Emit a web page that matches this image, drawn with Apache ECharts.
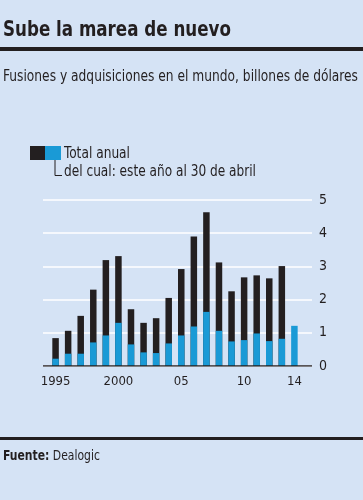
<!DOCTYPE html>
<html><head><meta charset="utf-8">
<script src="https://cdn.jsdelivr.net/npm/echarts@6/dist/echarts.min.js"></script>
<style>html,body{margin:0;padding:0;background:#d5e3f5;}#c{width:363px;height:500px;}</style>
</head><body><div id="c"></div>
<script>
const years = [1995,1996,1997,1998,1999,2000,2001,2002,2003,2004,2005,2006,2007,2008,2009,2010,2011,2012,2013,2014];
const totalAnual = [0.84,1.06,1.51,2.30,3.19,3.31,1.71,1.30,1.44,2.05,2.92,3.90,4.63,3.12,2.25,2.67,2.73,2.64,3.01,null];
const hastaAbril = [0.22,0.37,0.37,0.71,0.92,1.30,0.65,0.41,0.39,0.68,0.92,1.19,1.63,1.06,0.74,0.78,0.98,0.75,0.82,1.21];
const xTickLabels = {1995:'1995',2000:'2000',2005:'05',2010:'10',2014:'14'};
const yTicks = [0,1,2,3,4,5];

const FAM = '"DejaVu Sans Condensed",sans-serif';
const INK = '#231f20';
const mctx = document.createElement('canvas').getContext('2d');
function fit(text, font, target){ mctx.font = font; return target / mctx.measureText(text).width; }

function txt(text, font, x, y, targetW, extra){
  const measureText = text.replace(/\{[a-z]+\|([^}]*)\}/g,'$1');
  return {type:'text', x:x, y:y, scaleX:fit(measureText, font, targetW), originX:0, originY:0,
    style:Object.assign({text:text, font:font, fill:INK, verticalAlign:'top', align:'left'}, extra||{})};
}

const titleFont = 'bold 22px ' + FAM;
const subFont = '15px ' + FAM;
const legFont = '15px ' + FAM;
const srcFont = '14px ' + FAM;

const chart = echarts.init(document.getElementById('c'));
chart.setOption({
  backgroundColor:'#d5e3f5',
  animation:false,
  graphic:[
    txt('Sube la marea de nuevo', titleFont, 3, 19, 228),
    txt('Fusiones y adquisiciones en el mundo, billones de dólares', subFont, 3, 70, 355),
    {type:'rect',shape:{x:0,y:47,width:363,height:4},style:{fill:INK}},
    {type:'rect',shape:{x:0,y:437,width:363,height:3},style:{fill:INK}},
    {type:'rect',shape:{x:30,y:146,width:15,height:14},style:{fill:INK}},
    {type:'rect',shape:{x:45,y:146,width:16,height:14},style:{fill:'#1a9ad6'}},
    {type:'polyline',shape:{points:[[55,160],[55,175.5],[62,175.5]]},style:{stroke:INK,lineWidth:1,fill:null}},
    txt('Total anual', legFont, 64, 147, 66),
    txt('del cual: este año al 30 de abril', legFont, 64, 165, 192),
    txt('{b|Fuente:} Dealogic', srcFont, 3, 449, 91, {rich:{b:{font:'bold 14px '+FAM, fill:INK}}})
  ],
  grid:{left:43,right:51,top:200,bottom:134},
  xAxis:{type:'value',min:1994,max:2015.4,interval:1,
    axisLine:{show:false},axisTick:{show:false},splitLine:{show:false},
    axisLabel:{margin:9,fontFamily:FAM,fontSize:13,color:INK,
      formatter:v=>xTickLabels[v]||'',showMaxLabel:false}},
  yAxis:{type:'value',position:'right',min:yTicks[0],max:yTicks[yTicks.length-1],interval:1,
    axisLine:{show:false},axisTick:{show:false},
    splitLine:{lineStyle:{color:'#ffffff',width:1.5}},
    axisLabel:{margin:7,fontFamily:FAM,fontSize:14,color:INK}},
  series:[
    {type:'bar',name:'Total anual',data:years.map((y,i)=>[y,totalAnual[i]]),barWidth:6.5,barGap:'-100%',itemStyle:{color:INK},z:2},
    {type:'bar',name:'del cual',data:years.map((y,i)=>[y,hastaAbril[i]]),barWidth:6.5,barGap:'-100%',itemStyle:{color:'#1a9ad6'},z:3},
    {type:'line',data:[[1994,0],[2015.4,0]],symbol:'none',lineStyle:{color:INK,width:1.5},z:4,silent:true}
  ]
});
</script></body></html>
